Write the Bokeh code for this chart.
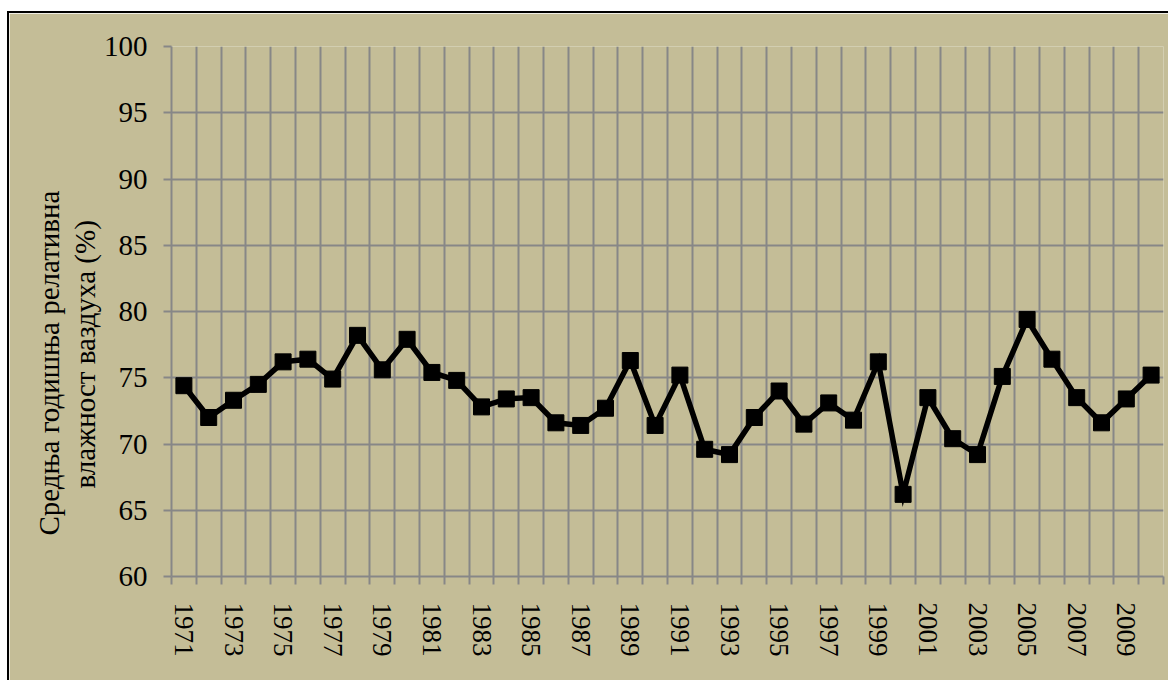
from bokeh.plotting import figure
from bokeh.models import FixedTicker, Range1d, Title
from bokeh.embed import file_html
from bokeh.resources import INLINE

# ---- data ----
years = [1971, 1972, 1973, 1974, 1975, 1976, 1977, 1978, 1979, 1980,
         1981, 1982, 1983, 1984, 1985, 1986, 1987, 1988, 1989, 1990,
         1991, 1992, 1993, 1994, 1995, 1996, 1997, 1998, 1999, 2000,
         2001, 2002, 2003, 2004, 2005, 2006, 2007, 2008, 2009, 2010]
humidity = [74.4, 72.0, 73.3, 74.5, 76.2, 76.4, 74.9, 78.2, 75.6, 77.9,
            75.4, 74.8, 72.8, 73.4, 73.5, 71.6, 71.4, 72.7, 76.3, 71.4,
            75.2, 69.6, 69.2, 72.0, 74.0, 71.5, 73.1, 71.8, 76.2, 66.2,
            73.5, 70.4, 69.2, 75.1, 79.4, 76.4, 73.5, 71.6, 73.4, 75.2]
tick_years = [1971, 1973, 1975, 1977, 1979, 1981, 1983, 1985, 1987, 1989,
              1991, 1993, 1995, 1997, 1999, 2001, 2003, 2005, 2007, 2009]
tick_labels = [str(y) for y in tick_years]
y_ticks = [60, 65, 70, 75, 80, 85, 90, 95, 100]
y_title = ["Средња годишња релативна", "влажност ваздуха (%)"]

BG = "#C4BD97"
GRID = "#878787"
FONT = "Liberation Serif"

boundaries = [y - 0.5 for y in years] + [years[-1] + 0.5]

p = figure(frame_width=992, frame_height=530,
           x_range=Range1d(years[0] - 0.5, years[-1] + 0.5),
           y_range=Range1d(y_ticks[0], y_ticks[-1]),
           output_backend="svg", toolbar_location=None,
           min_border_left=162, min_border_right=5,
           min_border_top=33, min_border_bottom=104,
           background_fill_color=BG, border_fill_color=BG,
           outline_line_color=None)

p.styles = {"border-top": "2px solid black", "border-left": "2px solid black",
            "margin-top": "11px", "margin-left": "7px"}

# grids
p.xgrid.ticker = FixedTicker(ticks=boundaries)
p.ygrid.ticker = FixedTicker(ticks=y_ticks)
for g in (p.xgrid, p.ygrid):
    g.grid_line_color = GRID
    g.grid_line_width = 2

# x axis
xa = p.xaxis[0]
xa.ticker = FixedTicker(ticks=tick_years, minor_ticks=boundaries)
xa.major_label_overrides = {y: s for y, s in zip(tick_years, tick_labels)}
xa.major_tick_out = 0
xa.major_tick_in = 0
xa.minor_tick_out = 8
xa.minor_tick_in = 0
xa.minor_tick_line_color = GRID
xa.minor_tick_line_width = 2
xa.axis_line_color = GRID
xa.axis_line_width = 2
xa.major_label_orientation = "vertical"
xa.major_label_standoff = 18
xa.major_label_text_font = FONT
xa.major_label_text_font_size = "27px"
xa.major_label_text_color = "black"

# y axis
ya = p.yaxis[0]
ya.ticker = FixedTicker(ticks=y_ticks)
ya.major_tick_out = 8
ya.major_tick_in = 0
ya.minor_tick_out = 0
ya.minor_tick_in = 0
ya.major_tick_line_color = GRID
ya.major_tick_line_width = 2
ya.axis_line_color = GRID
ya.axis_line_width = 2
ya.major_label_standoff = 16
ya.major_label_text_font = FONT
ya.major_label_text_font_size = "29px"
ya.major_label_text_color = "black"

# y title: two rotated lines, each centred on the same point
def title_line(text, offset, standoff):
    return Title(text=text, align="left", offset=offset, standoff=standoff,
                 vertical_align="bottom",
                 text_font=FONT, text_font_size="29px",
                 text_font_style="normal", text_color="black")

p.add_layout(title_line(y_title[1], 88, 0), "left")
p.add_layout(title_line(y_title[0], 41, 4), "left")

# data
p.line(years, humidity, line_width=5.5, line_color="black", line_join="miter")
p.scatter(years, humidity, marker="square", size=16,
          fill_color="black", line_color="black")

open("out.html", "w").write(file_html(p, INLINE))
